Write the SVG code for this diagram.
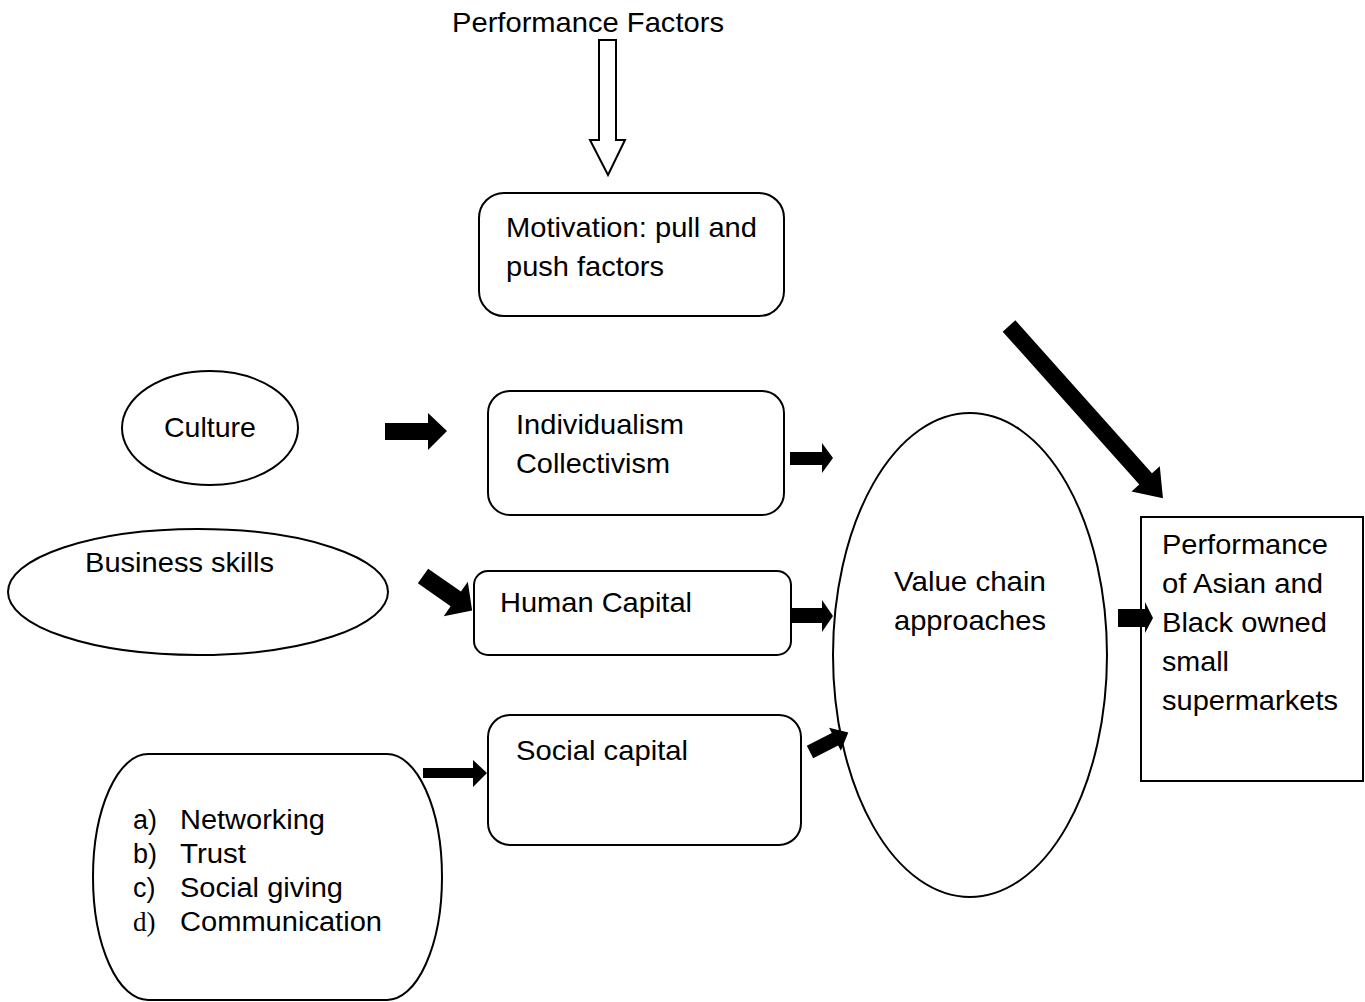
<svg xmlns="http://www.w3.org/2000/svg" width="1365" height="1002" viewBox="0 0 1365 1002">
<style>
.s{fill:#fff;stroke:#000;stroke-width:2}
.t{font-family:"Liberation Sans",Arial,sans-serif;font-size:28px;fill:#000}
.l{font-size:27px}
.sf{font-family:"Liberation Serif","Times New Roman",serif;font-size:27px}
.a{fill:#000;stroke:none}
</style>
<rect width="1365" height="1002" fill="#fff"/>
<g id="title"><text class="t" x="452" y="32" textLength="272" lengthAdjust="spacingAndGlyphs">Performance Factors</text></g>
<g id="motivation">
<rect class="s" x="479" y="193" width="305" height="123" rx="25"/>
<text class="t" x="506" y="237" textLength="251" lengthAdjust="spacingAndGlyphs">Motivation: pull and</text>
<text class="t" x="506" y="276" textLength="158" lengthAdjust="spacingAndGlyphs">push factors</text>
</g>
<g id="culture">
<ellipse class="s" cx="210" cy="428" rx="88" ry="57"/>
<text class="t" x="164" y="437" textLength="92" lengthAdjust="spacingAndGlyphs">Culture</text>
</g>
<g id="individualism">
<rect class="s" x="488" y="391" width="296" height="124" rx="22"/>
<text class="t" x="516" y="434" textLength="168" lengthAdjust="spacingAndGlyphs">Individualism</text>
<text class="t" x="516" y="473" textLength="154" lengthAdjust="spacingAndGlyphs">Collectivism</text>
</g>
<g id="business">
<ellipse class="s" cx="198" cy="592" rx="190" ry="63"/>
<text class="t" x="85" y="572" textLength="189" lengthAdjust="spacingAndGlyphs">Business skills</text>
</g>
<g id="human">
<rect class="s" x="474" y="571" width="317" height="84" rx="14"/>
<text class="t" x="500" y="612" textLength="192" lengthAdjust="spacingAndGlyphs">Human Capital</text>
</g>
<g id="social">
<rect class="s" x="488" y="715" width="313" height="130" rx="22"/>
<text class="t" x="516" y="760" textLength="172" lengthAdjust="spacingAndGlyphs">Social capital</text>
</g>
<g id="list">
<rect class="s" x="93" y="754" width="349" height="246" rx="55" ry="123"/>
<text class="t l" x="133" y="829">a)</text><text class="t l" x="180" y="829" textLength="145" lengthAdjust="spacingAndGlyphs">Networking</text>
<text class="t l" x="133" y="863">b)</text><text class="t l" x="180" y="863" textLength="66" lengthAdjust="spacingAndGlyphs">Trust</text>
<text class="t l" x="133" y="897">c)</text><text class="t l" x="180" y="897" textLength="163" lengthAdjust="spacingAndGlyphs">Social giving</text>
<text class="sf" x="133" y="931">d)</text><text class="t l" x="180" y="931" textLength="202" lengthAdjust="spacingAndGlyphs">Communication</text>
</g>
<g id="value">
<ellipse class="s" cx="970" cy="655" rx="137" ry="242"/>
<text class="t" x="894" y="591" textLength="152" lengthAdjust="spacingAndGlyphs">Value chain</text>
<text class="t" x="894" y="630" textLength="152" lengthAdjust="spacingAndGlyphs">approaches</text>
</g>
<g id="performance">
<rect class="s" x="1141" y="517" width="222" height="264"/>
<text class="t" x="1162" y="554" textLength="166" lengthAdjust="spacingAndGlyphs">Performance</text>
<text class="t" x="1162" y="593" textLength="161" lengthAdjust="spacingAndGlyphs">of Asian and</text>
<text class="t" x="1162" y="632" textLength="165" lengthAdjust="spacingAndGlyphs">Black owned</text>
<text class="t" x="1162" y="671" textLength="67" lengthAdjust="spacingAndGlyphs">small</text>
<text class="t" x="1162" y="710" textLength="176" lengthAdjust="spacingAndGlyphs">supermarkets</text>
</g>
<g id="connectors">
<polygon points="599,40 616,40 616,140 625,140 608,175 590,140 599,140" fill="#fff" stroke="#000" stroke-width="2"/>
<polygon class="a" points="385,423 428,423 428,413 447,431 428,450 428,440 385,440"/>
<polygon class="a" points="790,452 822,452 822,443 833,458 822,473 822,465 790,465"/>
<polygon class="a" points="790,608 822,608 822,600 833,616 822,632 822,623 790,623"/>
<polygon class="a" points="1118,609 1145,609 1145,602 1153,618 1145,633 1145,627 1118,627"/>
<polygon class="a" points="423,768 473,768 473,760 487,773 473,787 473,778 423,778"/>
<polygon class="a" transform="translate(423,576) rotate(35)" points="0,-9 40,-9 40,-21 60,0 40,21 40,9 0,9"/>
<polygon class="a" transform="translate(1009,326) rotate(48.2)" points="0,-8.5 205,-8.5 205,-19 231,0 205,19 205,8.5 0,8.5"/>
<polygon class="a" transform="translate(810,752) rotate(-27)" points="0,-7 28,-7 28,-13 43,0 28,13 28,7 0,7"/>
</g>
</svg>
